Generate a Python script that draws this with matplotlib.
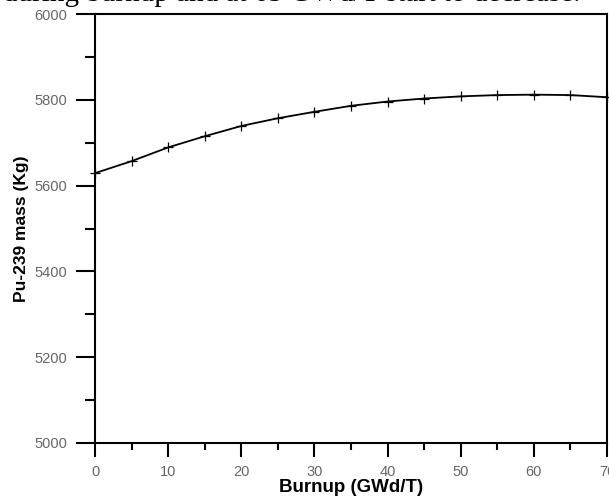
import numpy as np
from matplotlib import pyplot as plt
from matplotlib.ticker import MultipleLocator

''' --------------------------- data ----------------------------------'''
burnup = [0, 5, 10, 15, 20, 25, 30, 35, 40, 45, 50, 55, 60, 65, 70]
pu239 = [5629, 5657, 5689, 5715, 5739, 5757, 5772, 5786, 5796,
         5803, 5808, 5811, 5812, 5811, 5806]
caption = 'during burnup and at 65 GWd/T start to decrease.'

''' --------------------------- plot ----------------------------------'''
plt.rcParams['font.family'] = ['Liberation Sans', 'DejaVu Sans']

fig = plt.figure(figsize=(6.09, 4.97), dpi=100)
ax = fig.add_axes([95 / 609, 54 / 497, 512 / 609, 429 / 497])

ax.plot(burnup, pu239, 'k-', linewidth=1.3, marker='+', markersize=7,
        markeredgewidth=0.9, clip_on=False)

ax.set_xlim(0, 70)
ax.set_ylim(5000, 6000)
ax.xaxis.set_major_locator(MultipleLocator(10))
ax.xaxis.set_minor_locator(MultipleLocator(5))
ax.yaxis.set_major_locator(MultipleLocator(200))
ax.yaxis.set_minor_locator(MultipleLocator(100))

ax.tick_params(which='major', direction='out', length=10, width=1.5,
               labelsize=10.5, labelcolor='#666666', pad=6)
ax.tick_params(which='minor', direction='out', length=5, width=1.5)
ax.tick_params(axis='y', which='major', length=14)
ax.tick_params(axis='y', which='minor', length=7)
for s in ax.spines.values():
    s.set_linewidth(1.5)

ax.set_xlabel('Burnup (GWd/T)', fontsize=13.5, fontweight='bold', labelpad=0)
ax.set_ylabel('Pu-239 mass (Kg)', fontsize=12.5, fontweight='bold', labelpad=4)

# cut-off line of the surrounding document text
fig.text(0.005, 0.997, caption, fontsize=21, va='baseline', ha='left',
         family=['Liberation Serif', 'DejaVu Serif'])

plt.savefig('out.png', dpi=100)
